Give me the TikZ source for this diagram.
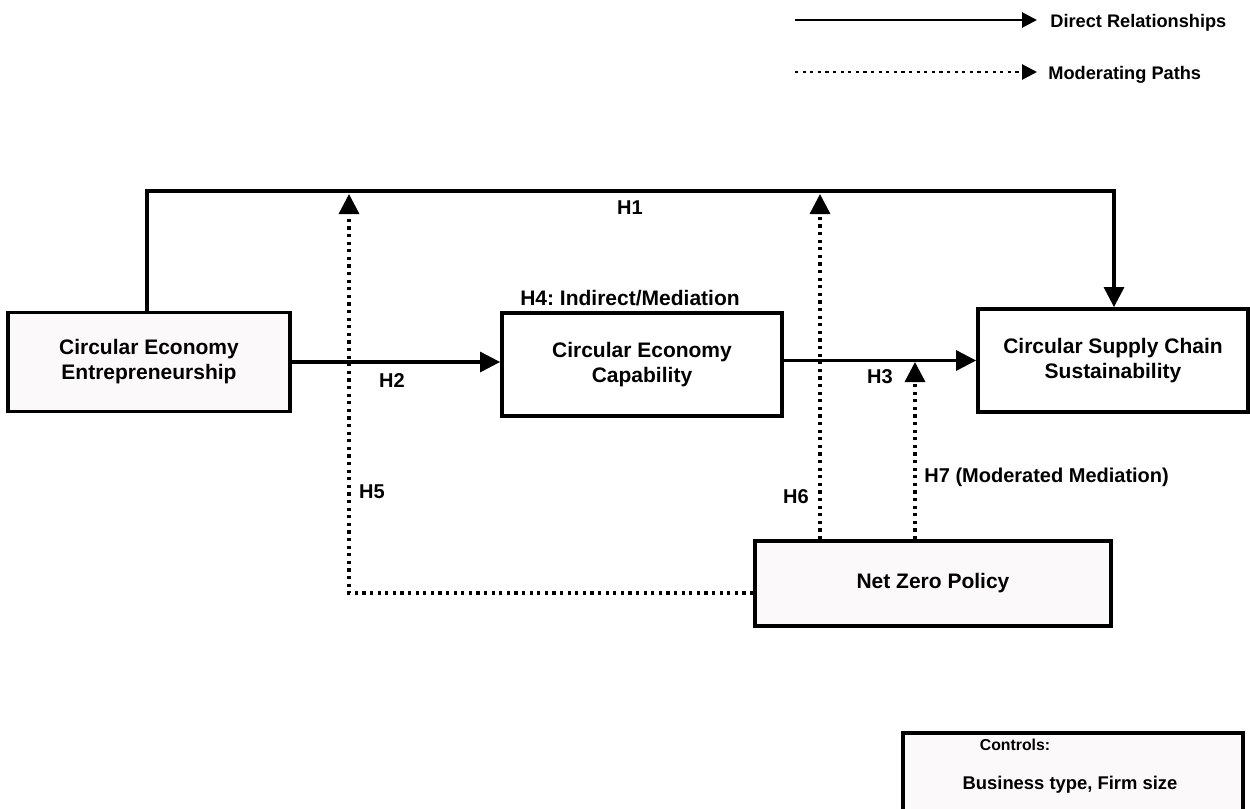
\documentclass[tikz,border=0pt]{standalone}
\usepackage{fontspec}
\setmainfont{Liberation Sans}
\usetikzlibrary{arrows.meta}
\definecolor{boxfill}{HTML}{FBF9FA}

\begin{document}
\begin{tikzpicture}[x=0.5pt, y=-0.5pt]
      \tikzstyle{every node}=[font=\frenchspacing\bfseries\fontsize{10.5}{12.5}\selectfont, align=center, inner sep=0pt]
      \tikzstyle{box}=[draw, line width=1.9pt, fill=white]
      \tikzstyle{direct}=[line width=1.55pt, -{Triangle[length=10pt, width=10pt]}]
      \tikzstyle{moder}=[line width=1.7pt, dash pattern=on 1.6pt off 2.2pt, -{Triangle[length=10pt, width=10pt]}]
      \tikzstyle{hlabel}=[font=\bfseries\fontsize{10}{12}\selectfont]
      \tikzstyle{legtxt}=[font=\bfseries\fontsize{9.1}{11}\selectfont, anchor=west]

      \useasboundingbox (0,0) rectangle (1250,809);

      % legend
      \coordinate (dirstart) at (795,20);
      \coordinate (dirend) at (1037,20);
      \coordinate (modstart) at (795,72);
      \coordinate (modend) at (1037,72);
      \path (1050,23) node[legtxt] (dirtxt) {Direct Relationships};
      \path (1048,75) node[legtxt] (modtxt) {Moderating Paths};
      \draw[direct, line width=1.4pt, -{Triangle[length=7.5pt, width=7.5pt]}] (dirstart) -- (dirend);
      \draw[moder, line width=1.4pt, -{Triangle[length=7.5pt, width=7.5pt]}] (modstart) -- (modend);

      % boxes
      \path (149,362) node[box, fill=boxfill, minimum width=141pt, minimum height=49.5pt] (cee) {Circular Economy\\Entrepreneurship};
      \path (642,364.5) node[box, minimum width=140pt, minimum height=51.5pt] (cec) {Circular Economy\\Capability};
      \path (1113,360.5) node[box, minimum width=135pt, minimum height=51.5pt] (csc) {Circular Supply Chain\\Sustainability};
      \path (933,583.5) node[box, fill=boxfill, minimum width=178pt, minimum height=42.5pt] (nzp) {Net Zero Policy};
      \path (1073,781.5) node[box, fill=boxfill, minimum width=170pt, minimum height=48.5pt] (ctrl) {};
      \path (1015,745) node[font=\bfseries\fontsize{7.9}{9}\selectfont] (ctrlhead) {Controls:};
      \path (1070,785) node[font=\bfseries\fontsize{9.2}{11}\selectfont] (ctrltxt) {Business type, Firm size};

      % direct paths
      \coordinate (h1left) at (147,191);
      \coordinate (h1right) at (1114,191);
      \draw[direct] (cee.north -| h1left) -- (h1left) -- (h1right) -- (csc.north -| h1right);
      \draw[direct] (cee.east) -- (cee.east -| cec.west);
      \draw[direct] (cec.east |- csc.west) -- (csc.west);

      % moderating paths
      \coordinate (h5bend) at (349,593);
      \coordinate (h5top) at (349,194);
      \coordinate (h6top) at (820,194);
      \coordinate (h7top) at (915,362);
      \draw[moder] (nzp.west |- h5bend) -- (h5bend) -- (h5top);
      \draw[moder] (nzp.north -| h6top) -- (h6top);
      \draw[moder] (nzp.north -| h7top) -- (h7top);

      % labels
      \path (630,208) node[hlabel] (h1) {H1};
      \path (392,381) node[hlabel] (h2) {H2};
      \path (880,377) node[hlabel] (h3) {H3};
      \path (630,298) node (h4) {H4: Indirect/Mediation};
      \path (372,492) node[hlabel] (h5) {H5};
      \path (796,497) node[hlabel] (h6) {H6};
      \path (924,477) node[hlabel, anchor=west] (h7) {H7 (Moderated Mediation)};
\end{tikzpicture}
\end{document}
